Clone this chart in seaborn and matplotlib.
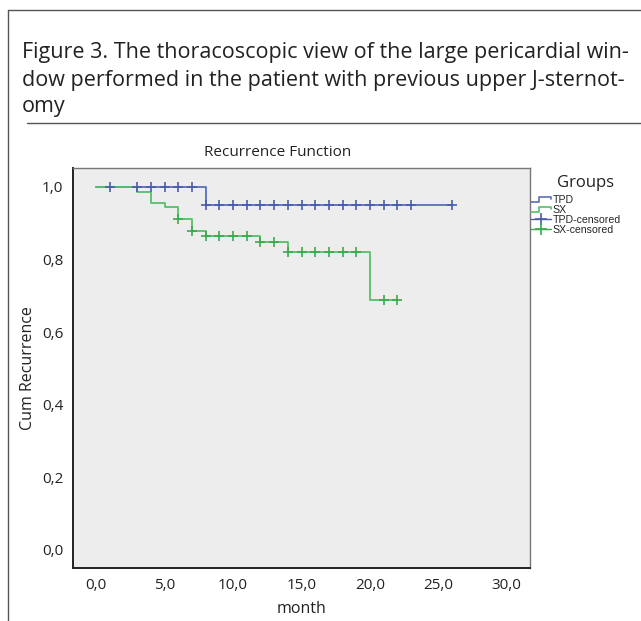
import numpy as np
import pandas as pd
import matplotlib
matplotlib.use("Agg")
import matplotlib.pyplot as plt
import seaborn as sns
from matplotlib.lines import Line2D
from matplotlib.legend_handler import HandlerBase

# ---- data ----
tpd_time = [0, 8, 26]
tpd_surv = [1.0, 0.95, 0.95]
tpd_censored = [1, 3, 4, 5, 6, 7, 8, 9, 10, 11, 12, 13, 14, 15, 16, 17, 18,
                19, 20, 21, 22, 23, 26]

sx_time = [0, 3, 4, 5, 6, 7, 8, 12, 14, 20, 22]
sx_surv = [1.0, 0.985, 0.955, 0.945, 0.912, 0.878, 0.866, 0.849, 0.821, 0.687, 0.687]
sx_censored = [6, 7, 8, 9, 10, 11, 12, 13, 14, 15, 16, 17, 18, 19, 21, 22]

x_ticks = [0, 5, 10, 15, 20, 25, 30]
y_ticks = [0.0, 0.2, 0.4, 0.6, 0.8, 1.0]
group_labels = ["TPD", "SX", "TPD-censored", "SX-censored"]

BLUE = "#5a6fbc"
GREEN = "#55c067"
BLUE_M = "#4a5ca8"
GREEN_M = "#38aa4c"

def lookup(times, surv, t):
    idx = np.searchsorted(np.array(times), np.array(t), side="right") - 1
    return np.array(surv)[idx]

curves = pd.concat([
    pd.DataFrame({"month": tpd_time, "surv": tpd_surv, "group": "TPD"}),
    pd.DataFrame({"month": sx_time, "surv": sx_surv, "group": "SX"}),
])
cens = pd.concat([
    pd.DataFrame({"month": tpd_censored, "surv": lookup(tpd_time, tpd_surv, tpd_censored), "group": "TPD-censored"}),
    pd.DataFrame({"month": sx_censored, "surv": lookup(sx_time, sx_surv, sx_censored), "group": "SX-censored"}),
])

sns.set_style("white")
plt.rcParams["font.family"] = ["Open Sans", "DejaVu Sans"]

W, H = 641, 621
fig = plt.figure(figsize=(W / 100, H / 100), dpi=100)
ax = fig.add_axes([73 / W, 1 - 568 / H, (530 - 73) / W, (568 - 168) / H])
ax.set_facecolor("#ededed")

sns.lineplot(data=curves[curves.group == "TPD"], x="month", y="surv", ax=ax,
             color=BLUE, drawstyle="steps-post", estimator=None, sort=False,
             linewidth=1.3, legend=False)
sns.lineplot(data=curves[curves.group == "SX"], x="month", y="surv", ax=ax,
             color=GREEN, drawstyle="steps-post", estimator=None, sort=False,
             linewidth=1.3, legend=False)
sns.scatterplot(data=cens[cens.group == "TPD-censored"], x="month", y="surv", ax=ax,
                marker="+", color=BLUE_M, s=45, linewidth=1.2, legend=False, zorder=4)
sns.scatterplot(data=cens[cens.group == "SX-censored"], x="month", y="surv", ax=ax,
                marker="+", color=GREEN_M, s=45, linewidth=1.2, legend=False, zorder=4)

ax.set_xlim(-1.7, 31.7)
ax.set_ylim(-0.05, 1.052)
ax.set_xticks(x_ticks)
ax.set_xticklabels([f"{v:.1f}".replace(".", ",") for v in x_ticks])
ax.set_yticks(y_ticks)
ax.set_yticklabels([f"{v:.1f}".replace(".", ",") for v in y_ticks])
ax.tick_params(axis="both", direction="out", length=5, width=1.2, color="#222222",
               labelsize=11, labelcolor="#222222", pad=2)
ax.set_xlabel("month", fontsize=11.5, color="#222222", labelpad=6)
ax.set_ylabel("Cum Recurrence", fontsize=11.5, color="#222222", labelpad=4)
for side in ["left", "bottom"]:
    ax.spines[side].set_color("#222222")
    ax.spines[side].set_linewidth(1.4)
for side in ["top", "right"]:
    ax.spines[side].set_visible(True)
    ax.spines[side].set_color("#777777")
    ax.spines[side].set_linewidth(1.0)

fig.text(278 / W, 1 - 152 / H, "Recurrence Function", ha="center", va="center",
         fontsize=11, color="#222222")


class StepHandler(HandlerBase):
    def create_artists(self, legend, orig_handle, xdescent, ydescent, width, height, fontsize, trans):
        x0, y0 = -xdescent, -ydescent
        xs = [x0, x0 + 0.4 * width, x0 + 0.4 * width, x0 + width, x0 + width]
        ys = [y0 + 0.1 * height, y0 + 0.1 * height, y0 + 0.9 * height, y0 + 0.9 * height, y0 + 0.5 * height]
        ln = Line2D(xs, ys, color=orig_handle.get_color(), lw=1.2)
        ln.set_transform(trans)
        return [ln]


class CensHandler(HandlerBase):
    def create_artists(self, legend, orig_handle, xdescent, ydescent, width, height, fontsize, trans):
        x0, y0 = -xdescent, -ydescent
        ln = Line2D([x0, x0 + width], [y0 + 0.5 * height] * 2, color=orig_handle.get_color(), lw=1.0)
        mk = Line2D([x0 + 0.5 * width], [y0 + 0.5 * height], color=orig_handle.get_color(),
                    marker="+", markersize=8, mew=1.2, linestyle="none")
        ln.set_transform(trans)
        mk.set_transform(trans)
        return [ln, mk]


h_tpd = Line2D([], [], color=BLUE)
h_sx = Line2D([], [], color=GREEN)
h_tc = Line2D([], [], color=BLUE_M)
h_sc = Line2D([], [], color=GREEN_M)
leg = fig.legend([h_tpd, h_sx, h_tc, h_sc], group_labels,
                 handler_map={h_tpd: StepHandler(), h_sx: StepHandler(),
                              h_tc: CensHandler(), h_sc: CensHandler()},
                 loc="upper left", bbox_to_anchor=(531 / W, 1 - 195 / H),
                 frameon=False, prop={"family": "Liberation Sans", "size": 7.6},
                 handlelength=1.9, handleheight=0.6, handletextpad=0.15, labelspacing=0.0,
                 borderpad=0.0, borderaxespad=0.0)
fig.text(585 / W, 1 - 183 / H, "Groups", ha="center", va="center", fontsize=12, color="#222222")

# caption and frame
fig.text(22 / W, 1 - 58 / H, "Figure 3. The thoracoscopic view of the large pericardial win-",
         ha="left", va="baseline", fontsize=15.5, color="#222222")
fig.text(22 / W, 1 - 86 / H, "dow performed in the patient with previous upper J-sternot-",
         ha="left", va="baseline", fontsize=15.5, color="#222222")
fig.text(22 / W, 1 - 112 / H, "omy", ha="left", va="baseline", fontsize=15.5, color="#222222")

fig.add_artist(Line2D([8 / W, 8 / W], [0, 1 - 10 / H], transform=fig.transFigure, color="#555555", lw=1.0))
fig.add_artist(Line2D([8 / W, 1], [1 - 10 / H, 1 - 10 / H], transform=fig.transFigure, color="#555555", lw=1.0))
fig.add_artist(Line2D([27 / W, 1], [1 - 123 / H, 1 - 123 / H], transform=fig.transFigure, color="#555555", lw=1.0))

fig.savefig("out.png", dpi=100)
